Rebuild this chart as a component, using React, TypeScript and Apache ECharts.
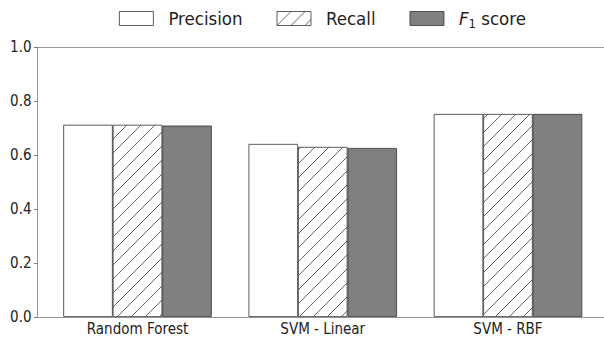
import React, { useEffect, useRef } from "react";
import * as echarts from "echarts";

const categories = ["Random Forest", "SVM - Linear", "SVM - RBF"];
const categoryPositions = [0, 1, 2];
const precision = [0.712, 0.641, 0.752];
const recall = [0.712, 0.630, 0.752];
const f1 = [0.709, 0.626, 0.752];
const yTicks = [0, 0.2, 0.4, 0.6, 0.8, 1.0];

const FONT = "'DejaVu Sans Condensed', 'DejaVu Sans'";
const SPINE = "#9a9a9a";

const hatchSvg =
  "data:image/svg+xml;utf8," +
  encodeURIComponent(
    '<svg xmlns="http://www.w3.org/2000/svg" width="14" height="14">' +
      '<rect width="14" height="14" fill="#ffffff"/>' +
      '<line x1="0" y1="14" x2="14" y2="0" stroke="#555" stroke-width="0.9"/>' +
      '<line x1="-1" y1="1" x2="1" y2="-1" stroke="#555" stroke-width="0.9"/>' +
      '<line x1="13" y1="15" x2="15" y2="13" stroke="#555" stroke-width="0.9"/>' +
      "</svg>"
  );

export default function App() {
  const ref = useRef<HTMLDivElement>(null);
  useEffect(() => {
    if (!ref.current) return;
    const chart = echarts.init(ref.current, null, { renderer: "svg" });
    const pair = (arr: number[]) => categoryPositions.map((x, i) => [x, arr[i]]);
    const barBase = {
      type: "bar",
      barWidth: 49.5,
      barGap: "0%",
      itemStyle: { borderColor: "#333", borderWidth: 0.8 },
    };
    chart.setOption({
      animation: false,
      textStyle: { fontFamily: FONT },
      legend: {
        left: 119,
        top: 9,
        padding: 0,
        itemWidth: 34,
        itemHeight: 14,
        itemGap: 34,
        icon: "rect",
        itemStyle: { borderColor: "#333", borderWidth: 0.8 },
        textStyle: {
          fontFamily: FONT,
          fontSize: 18.5,
          color: "#222",
          padding: [0, 0, 0, 10],
          rich: {
            f: { fontFamily: FONT, fontSize: 18.5, fontStyle: "italic", color: "#222" },
            sub: { fontFamily: FONT, fontSize: 13, color: "#222", padding: [9, 0, 0, 0] },
            n: { fontFamily: FONT, fontSize: 18.5, color: "#222" },
          },
        },
        formatter: (name: string) =>
          name === "F1 score" ? "{f|F}{sub|1}{n| score}" : name,
        data: ["Precision", "Recall", "F1 score"],
      },
      grid: { left: 37.5, right: 6, top: 47, bottom: 20, show: false, outerBoundsMode: "none" },
      xAxis: [
        {
          type: "value", min: -0.54, max: 2.54, position: "bottom",
          axisLine: { show: true, onZero: false, lineStyle: { color: SPINE, width: 1 } },
          axisTick: { show: false }, splitLine: { show: false },
          axisLabel: {
            customValues: categoryPositions,
            formatter: (v: number) => categories[Math.round(v)] ?? "",
            fontFamily: FONT, fontSize: 15, color: "#222", margin: 4,
          },
        },
        {
          type: "value", min: -0.54, max: 2.54, position: "top",
          axisLine: { show: true, onZero: false, lineStyle: { color: SPINE, width: 1 } },
          axisTick: { show: false }, splitLine: { show: false }, axisLabel: { show: false },
        },
      ],
      yAxis: {
        type: "value", min: 0, max: 1, interval: 0.2,
        axisLine: { show: true, onZero: false, lineStyle: { color: SPINE, width: 1 } },
        axisTick: { show: true, length: 3.5, lineStyle: { color: "#777" } },
        splitLine: { show: false },
        axisLabel: {
          customValues: yTicks,
          formatter: (v: number) => v.toFixed(1),
          fontFamily: FONT, fontSize: 15, color: "#222", margin: 6,
        },
      },
      series: [
        { ...barBase, name: "Precision", data: pair(precision), itemStyle: { ...barBase.itemStyle, color: "#ffffff" } },
        {
          ...barBase,
          name: "Recall",
          data: pair(recall),
          itemStyle: {
            ...barBase.itemStyle,
            color: { image: hatchSvg, repeat: "repeat", imageWidth: 14, imageHeight: 14 },
          },
        },
        { ...barBase, name: "F1 score", data: pair(f1), itemStyle: { ...barBase.itemStyle, color: "#808080" } },
      ],
    });
    return () => chart.dispose();
  }, []);
  return (
    <div ref={ref} style={{ position: "fixed", left: 0, top: 0, width: 614, height: 337, background: "#fff" }} />
  );
}
